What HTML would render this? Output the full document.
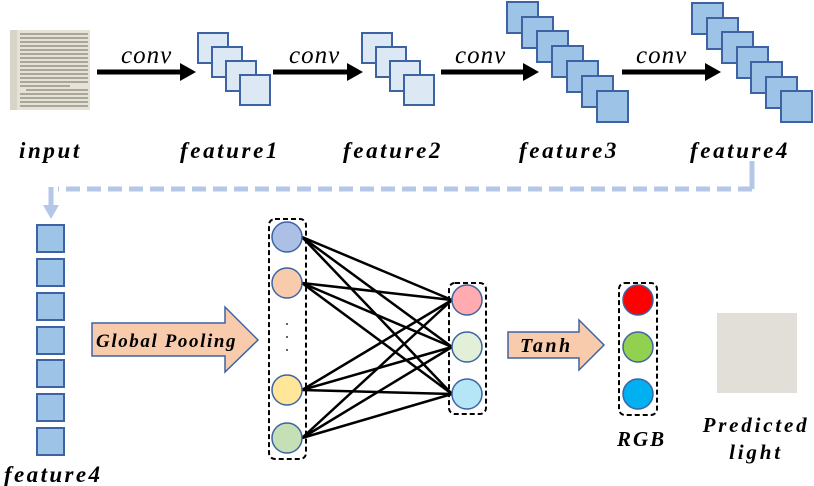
<!DOCTYPE html>
<html><head><meta charset="utf-8"><style>
html,body{margin:0;padding:0;background:#fff;}
svg{display:block;}
text{font-family:"Liberation Serif",serif;font-style:italic;font-weight:bold;fill:#000;}
</style></head><body>
<svg width="814" height="486" viewBox="0 0 814 486" xmlns="http://www.w3.org/2000/svg">
<!-- input image -->
<rect x="10" y="30" width="80" height="80" fill="#e6e2d6"/>
<rect x="10" y="30" width="7" height="80" fill="#d8d4c8"/>
<g stroke="#85827a" stroke-width="1.3">
<line x1="20" y1="34" x2="88" y2="34"/><line x1="20" y1="38" x2="88" y2="38"/><line x1="20" y1="42" x2="88" y2="42"/><line x1="20" y1="46" x2="88" y2="46"/><line x1="20" y1="50" x2="88" y2="50"/><line x1="20" y1="54" x2="88" y2="54"/><line x1="20" y1="58" x2="88" y2="58"/><line x1="20" y1="62" x2="88" y2="62"/><line x1="20" y1="66" x2="88" y2="66"/><line x1="20" y1="70" x2="88" y2="70"/><line x1="20" y1="74" x2="88" y2="74"/><line x1="20" y1="78" x2="88" y2="78"/><line x1="20" y1="82" x2="88" y2="82"/><line x1="20" y1="86" x2="70" y2="86"/><line x1="26" y1="90" x2="88" y2="90"/><line x1="20" y1="94" x2="88" y2="94"/><line x1="20" y1="98" x2="88" y2="98"/><line x1="20" y1="102" x2="88" y2="102"/><line x1="20" y1="106" x2="88" y2="106"/>
</g>
<!-- conv arrows -->
<g stroke="#000" stroke-width="5">
<line x1="97" y1="72" x2="183" y2="72"/><line x1="273" y1="72" x2="350" y2="72"/><line x1="441" y1="72" x2="526" y2="72"/><line x1="622" y1="72" x2="708" y2="72"/>
</g>
<g fill="#000">
<path d="M180,63 L196,72 L180,81z"/><path d="M347,63 L363,72 L347,81z"/><path d="M523,63 L539,72 L523,81z"/><path d="M705,63 L721,72 L705,81z"/>
</g>
<g font-size="25">
<text x="121" y="63" style="font-weight:normal" letter-spacing="1">conv</text>
<text x="289" y="63" style="font-weight:normal" letter-spacing="1">conv</text>
<text x="455" y="63" style="font-weight:normal" letter-spacing="1">conv</text>
<text x="636" y="63" style="font-weight:normal" letter-spacing="1">conv</text>
</g>
<!-- feature1 & 2 -->
<g fill="#dde8f5" stroke="#3d63a3" stroke-width="2">
<rect x="198" y="33" width="30" height="30"/><rect x="212" y="47" width="30" height="30"/><rect x="226" y="61" width="30" height="30"/><rect x="240" y="75" width="30" height="30"/>
<rect x="362" y="33" width="30" height="30"/><rect x="376" y="47" width="30" height="30"/><rect x="390" y="61" width="30" height="30"/><rect x="404" y="75" width="30" height="30"/>
</g>
<!-- feature3 & 4 -->
<g fill="#9dc3e6" stroke="#3d63a3" stroke-width="2">
<rect x="507" y="2" width="31" height="31"/><rect x="522" y="17" width="31" height="31"/><rect x="537" y="31" width="31" height="31"/><rect x="552" y="46" width="31" height="31"/><rect x="567" y="61" width="31" height="31"/><rect x="582" y="76" width="31" height="31"/><rect x="597" y="91" width="31" height="31"/>
<rect x="692" y="3" width="31" height="31"/><rect x="707" y="18" width="31" height="31"/><rect x="722" y="32" width="31" height="31"/><rect x="737" y="47" width="31" height="31"/><rect x="751" y="62" width="31" height="31"/><rect x="766" y="77" width="31" height="31"/><rect x="781" y="91" width="31" height="31"/>
</g>
<g font-size="23" letter-spacing="2.6">
<text x="19" y="158">input</text>
<text x="180" y="158">feature1</text>
<text x="343" y="158">feature2</text>
<text x="519" y="158">feature3</text>
<text x="690" y="158">feature4</text>
</g>
<!-- dashed connector -->
<g stroke="#b4c7e7" stroke-width="5" fill="none">
<line x1="752" y1="161" x2="752" y2="189"/>
<line x1="752" y1="189" x2="58" y2="189" stroke-dasharray="14 7"/>
<line x1="51" y1="187" x2="51" y2="206"/>
</g>
<path d="M43,205 L59,205 L51,219z" fill="#b4c7e7"/>
<!-- feature4 column -->
<g fill="#9dc3e6" stroke="#3d63a3" stroke-width="2">
<rect x="37" y="225" width="27" height="27"/><rect x="37" y="259" width="27" height="27"/><rect x="37" y="293" width="27" height="27"/><rect x="37" y="327" width="27" height="27"/><rect x="37" y="360" width="27" height="27"/><rect x="37" y="394" width="27" height="27"/><rect x="37" y="428" width="27" height="27"/>
</g>
<text x="4" y="482" font-size="23" letter-spacing="2.4">feature4</text>
<!-- Global pooling arrow -->
<path d="M92,323 L225,323 L225,307 L258,340 L225,372 L225,356 L92,356z" fill="#f8cbad" stroke="#3d63a3" stroke-width="1.5"/>
<text x="96" y="347" font-size="19" letter-spacing="1.6">Global Pooling</text>
<!-- connections -->
<g stroke="#000" stroke-width="2.5">
<line x1="302" y1="237" x2="452" y2="300"/><line x1="302" y1="237" x2="452" y2="347"/><line x1="302" y1="237" x2="452" y2="394"/>
<line x1="302" y1="283" x2="452" y2="300"/><line x1="302" y1="283" x2="452" y2="347"/><line x1="302" y1="283" x2="452" y2="394"/>
<line x1="302" y1="390" x2="452" y2="300"/><line x1="302" y1="390" x2="452" y2="347"/><line x1="302" y1="390" x2="452" y2="394"/>
<line x1="302" y1="438" x2="452" y2="300"/><line x1="302" y1="438" x2="452" y2="347"/><line x1="302" y1="438" x2="452" y2="394"/>
</g>
<g fill="none" stroke="#000" stroke-width="2" stroke-dasharray="5 3">
<rect x="269" y="219" width="37" height="240" rx="6"/>
<rect x="449" y="283" width="37" height="131" rx="6"/>
<rect x="619" y="283" width="38" height="132" rx="6"/>
</g>
<g stroke="#3d63a3" stroke-width="1.5">
<circle cx="287" cy="237" r="15" fill="#abc0e4"/>
<circle cx="287" cy="283" r="15" fill="#f8cbad"/>
<circle cx="287" cy="390" r="15" fill="#ffe699"/>
<circle cx="287" cy="438" r="15" fill="#c5e0b4"/>
<circle cx="467" cy="300" r="15" fill="#ffabb0"/>
<circle cx="467" cy="347" r="15" fill="#e2f0d9"/>
<circle cx="467" cy="394" r="15" fill="#b4e6f7"/>
<circle cx="638" cy="300" r="15" fill="#ff0000"/>
<circle cx="638" cy="347" r="15" fill="#92d050"/>
<circle cx="638" cy="394" r="15" fill="#00b0f0"/>
</g>
<g fill="#333"><circle cx="287" cy="324" r="1"/><circle cx="287" cy="337" r="1"/><circle cx="287" cy="350" r="1"/></g>
<!-- Tanh arrow -->
<path d="M508,332 L579,332 L579,320 L604,345 L579,370 L579,358 L508,358z" fill="#f8cbad" stroke="#3d63a3" stroke-width="1.5"/>
<text x="520" y="352" font-size="20" letter-spacing="2.5">Tanh</text>
<text x="617" y="446" font-size="21" letter-spacing="2">RGB</text>
<rect x="717" y="313" width="80" height="80" fill="#e2dfd8"/>
<text x="756" y="432" font-size="21" text-anchor="middle" letter-spacing="2.8">Predicted</text>
<text x="756" y="459" font-size="21" text-anchor="middle" letter-spacing="2.8">light</text>
</svg>
</body></html>
